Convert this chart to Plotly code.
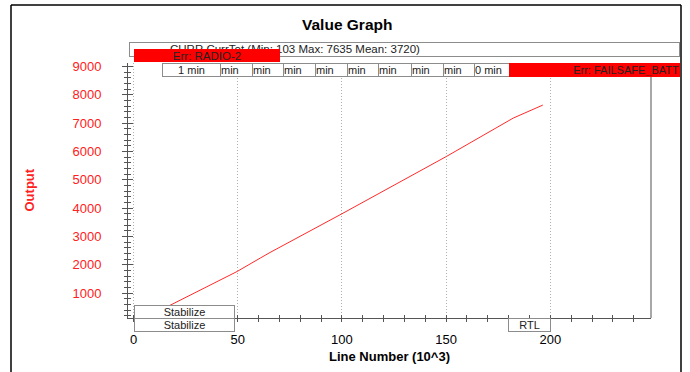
import plotly.graph_objects as go

# ---------------- data ----------------
line_number_k = [5, 18.8, 49.7, 60.8, 65.5, 100, 127.9, 150.1, 182.2, 196.4]
curr_tot = [103, 621, 1761, 2234, 2432, 3798, 4938, 5820, 7176, 7635]

title_text = "Value Graph"
x_title = "Line Number (10^3)"
y_title = "Output"
series_label = "CURR CurrTot (Min: 103 Max: 7635 Mean: 3720)"
err_labels = ["Err: RADIO-2", "Err: FAILSAFE_BATT"]
time_labels = ["1 min", "min", "min", "min", "min", "min", "min", "min", "min", "0 min"]
mode_labels_top = ["Stabilize"]
mode_labels_bottom = ["Stabilize", "RTL"]

# ---------------- layout geometry (pixels) ----------------
W, H = 690, 372
L, R, T, B = 128, 39, 63, 54
PW, PH = W - L - R, H - T - B


def px(x):
    return (x - L) / PW


def py(y):
    return 1 - (y - T) / PH


FONT = "Liberation Sans, Arial, sans-serif"

fig = go.Figure()
fig.add_trace(go.Scatter(x=line_number_k, y=curr_tot, mode="lines",
                         line=dict(color="#ff2a2a", width=1), hoverinfo="skip"))
# invisible trace for overlay axes (crossing ticks)
fig.add_trace(go.Scatter(x=[None], y=[None], xaxis="x2", yaxis="y2", mode="lines",
                         showlegend=False, hoverinfo="skip"))

xr = [-2.64, 248.3]
yr = [120, 9120]
axcol = "#555555"

fig.update_layout(
    width=W, height=H,
    margin=dict(l=L, r=R, t=T, b=B, autoexpand=False),
    plot_bgcolor="white", paper_bgcolor="white",
    showlegend=False,
    font=dict(family=FONT, color="black"),
    xaxis=dict(range=xr, tick0=0, dtick=50, showline=True, linecolor=axcol, linewidth=1,
               ticks="outside", ticklen=3, tickcolor=axcol,
               minor=dict(tick0=0, dtick=10, ticks="outside", ticklen=3, tickcolor=axcol, showgrid=False),
               showgrid=True, gridcolor="#b0b0b0", griddash="1px,2px", gridwidth=1,
               zeroline=False, tickfont=dict(size=13, color="black"),
               ticklabelstandoff=6, automargin=False),
    xaxis2=dict(range=xr, overlaying="x", anchor="y", side="bottom", tick0=0, dtick=50,
                ticks="inside", ticklen=3, tickcolor=axcol, showticklabels=False,
                minor=dict(tick0=0, dtick=10, ticks="inside", ticklen=3, tickcolor=axcol, showgrid=False),
                showgrid=False, showline=False, zeroline=False),
    yaxis=dict(range=yr, tick0=0, dtick=1000, showline=True, linecolor=axcol, linewidth=1,
               ticks="outside", ticklen=5, tickcolor=axcol,
               minor=dict(tick0=0, dtick=200, ticks="outside", ticklen=3, tickcolor=axcol, showgrid=False),
               showgrid=False, zeroline=False, tickfont=dict(size=13, color="#ff2020"),
               ticklabelstandoff=18, automargin=False),
    yaxis2=dict(range=yr, overlaying="y", anchor="x", side="left", tick0=0, dtick=1000,
                ticks="inside", ticklen=5, tickcolor=axcol, showticklabels=False,
                minor=dict(tick0=0, dtick=200, ticks="inside", ticklen=3, tickcolor=axcol, showgrid=False),
                showgrid=False, showline=False, zeroline=False),
)

shapes = []
# right border of plot area
shapes.append(dict(type="line", xref="paper", yref="paper", x0=1, x1=1, y0=0, y1=1,
                   line=dict(color="#a8a8a8", width=2), layer="above"))
# outer black frame
fl, fr, ft, fb = px(11), px(681), py(5), py(400)
for (x0, y0, x1, y1) in [(fl, fb, fl, ft), (fl, ft, fr, ft), (fr, ft, fr, fb)]:
    shapes.append(dict(type="line", xref="paper", yref="paper", x0=x0, y0=y0, x1=x1, y1=y1,
                       line=dict(color="black", width=1.5), layer="above"))
fig.update_layout(shapes=shapes)

ann = []


def box(x0, y0, x1, y1, text=" ", bg="white", border="#8c8c8c", align="center", size=11,
        color="#222222", bw=1):
    ann.append(dict(xref="paper", yref="paper", x=px(x0), y=py(y0), xanchor="left", yanchor="top",
                    width=max(1, x1 - x0 - 2 * bw), height=max(1, y1 - y0 - 2 * bw),
                    text=text, showarrow=False, bgcolor=bg, bordercolor=border, borderwidth=bw,
                    borderpad=0, align=align, valign="middle",
                    font=dict(family=FONT, size=size, color=color)))


def label(x, y, text, size=11, color="#222222", xanchor="left", bold=False, angle=0):
    ann.append(dict(xref="paper", yref="paper", x=px(x), y=py(y), xanchor=xanchor, yanchor="middle",
                    text=("<b>%s</b>" % text) if bold else text, showarrow=False, textangle=angle,
                    font=dict(family=FONT, size=size, color=color)))


# title and axis titles
label(347, 24, title_text, size=15.5, color="black", xanchor="center", bold=True)
label(389.5, 356.5, x_title, size=13, color="black", xanchor="center", bold=True)
label(28.5, 190, y_title, size=13, color="#ff2020", xanchor="center", bold=True, angle=-90)

# series legend box
box(129, 42, 680, 56.5)
label(168, 49.5, series_label, size=11.5)
# error boxes
box(134, 49.3, 280, 62.7, err_labels[0], bg="#ff0000", border="#ff0000", size=11.5, color="#222222")
# time row
edges = [162, 220, 252, 283, 315, 347, 378, 411, 443, 474, 509]
for i, t in enumerate(time_labels):
    box(edges[i], 62.7, edges[i + 1] + 1, 76.3, t, align="center" if i == 0 else "left", size=11)
box(509, 62.7, 680, 76.3, err_labels[1], bg="#ff0000", border="#ff0000", align="right", size=11)

# mode boxes at bottom
box(134, 304.5, 235, 319, mode_labels_top[0], size=11)
box(134, 318, 235, 332, mode_labels_bottom[0], size=11)
box(508, 318, 551, 332, mode_labels_bottom[1], size=11)

fig.update_layout(annotations=ann)
fig.write_html("out.html")
